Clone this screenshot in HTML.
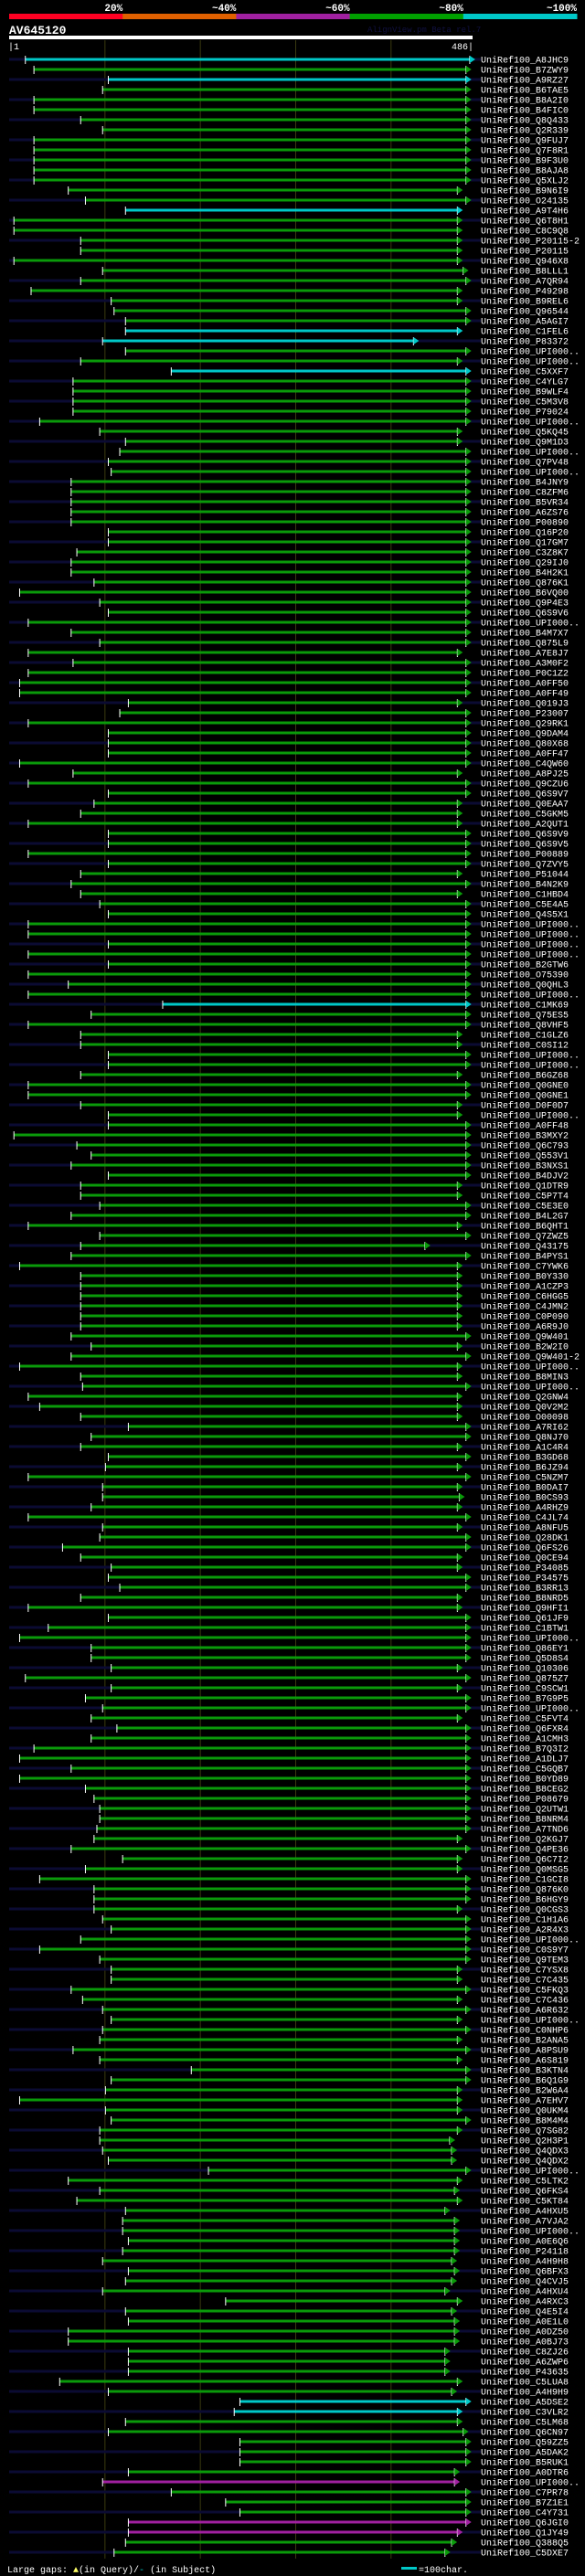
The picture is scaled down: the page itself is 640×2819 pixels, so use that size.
<!DOCTYPE html>
<html><head><meta charset="utf-8"><style>
html,body{margin:0;padding:0;background:#000;}
svg{display:block;}
text{font-family:"Liberation Mono",monospace;}
</style></head><body>
<svg id="chart" width="640" height="2819" viewBox="0 0 640 2819" xmlns="http://www.w3.org/2000/svg">
<rect x="0" y="0" width="640" height="2819" fill="#000"/>
<g id="scale-legend"></g>
<text x="10" y="37" fill="#fff" font-size="13" font-weight="bold">AV645120</text>
<text x="402" y="35" fill="#101040" font-size="9">AlignView.pm Beta rel.7</text>
<rect x="10" y="39" width="507" height="4" fill="#fff"/>
<text x="9" y="54" fill="#fff" font-size="10">|1</text>
<text x="518" y="54" fill="#fff" font-size="10" text-anchor="end">486|</text>
<g id="grid"></g>
<g id="rows"></g>
<text x="8" y="2815" fill="#fff" font-size="10">Large gaps: <tspan fill="#ffff66">▲</tspan>(in Query)/<tspan fill="#00c8c8">-</tspan> (in Subject)</text>
<rect x="439" y="2809" width="17" height="3" fill="#00c8c8"/>
<text x="458" y="2815" fill="#fff" font-size="10">=100char.</text>
</svg>
<script>
const scaleLabels = ["20%","~40%","~60%","~80%","~100%"];
const scaleColors = ["#ff0022","#e06000","#a020a0","#00a000","#00c8c8"];
const gridTicks = [100,200,300,400];
const names = ["A8JHC9","B7ZWY9","A9RZ27","B6TAE5","B8A2I0","B4FIC0","Q8Q433","Q2R339","Q9FUJ7","Q7F8R1",
"B9F3U0","B8AJA8","Q5XLJ2","B9N6I9","O24135","A9T4H6","Q6T8H1","C8C9Q8","P20115-2","P20115",
"Q946X8","B8LLL1","A7QR94","P49298","B9REL6","Q96544","A5AGI7","C1FEL6","P83372","UPI000..",
"UPI000..","C5XXF7","C4YLG7","B9WLF4","C5M3V8","P79024","UPI000..","Q5KQ45","Q9M1D3","UPI000..",
"Q7PV48","UPI000..","B4JNY9","C8ZFM6","B5VR34","A6ZS76","P00890","Q16P20","Q17GM7","C3Z8K7",
"Q29IJ0","B4H2K1","Q876K1","B6VQ00","Q9P4E3","Q6S9V6","UPI000..","B4M7X7","Q875L9","A7E8J7",
"A3M0F2","P0C1Z2","A0FF50","A0FF49","Q019J3","P23007","Q29RK1","Q9DAM4","Q80X68","A0FF47",
"C4QW60","A8PJ25","Q9CZU6","Q6S9V7","Q0EAA7","C5GKM5","A2QUT1","Q6S9V9","Q6S9V5","P00889",
"Q7ZVY5","P51044","B4N2K9","C1HBD4","C5E4A5","Q4S5X1","UPI000..","UPI000..","UPI000..","UPI000..",
"B2GTW6","O75390","Q0QHL3","UPI000..","C1MK69","Q75ES5","Q8VHF5","C1GLZ6","C0SI12","UPI000..",
"UPI000..","B6GZ68","Q0GNE0","Q0GNE1","D0F0D7","UPI000..","A0FF48","B3MXY2","Q6C793","Q553V1",
"B3NXS1","B4DJV2","Q1DTR9","C5P7T4","C5E3E0","B4L2G7","B6QHT1","Q7ZWZ5","Q43175","B4PYS1",
"C7YWK6","B0Y330","A1CZP3","C6HGG5","C4JMN2","C0P090","A6R9J0","Q9W401","B2W2I0","Q9W401-2",
"UPI000..","B8MIN3","UPI000..","Q2GNW4","Q0V2M2","O00098","A7RI62","Q8NJ70","A1C4R4","B3GD68",
"B6JZ94","C5NZM7","B0DAI7","B0CS93","A4RHZ9","C4JL74","A8NFU5","Q28DK1","Q6FS26","Q0CE94",
"P34085","P34575","B3RR13","B8NRD5","Q9HFI1","Q61JF9","C1BTW1","UPI000..","Q86EY1","Q5D8S4",
"Q10306","Q875Z7","C9SCW1","B7G9P5","UPI000..","C5FVT4","Q6FXR4","A1CMH3","B7Q3I2","A1DLJ7",
"C5GQB7","B0YD89","B8CEG2","P08679","Q2UTW1","B8NRM4","A7TND6","Q2KGJ7","Q4PE36","Q6C7I2",
"Q0MSG5","C1GCI8","Q876K0","B6HGY9","Q0CGS3","C1H1A6","A2R4X3","UPI000..","C0S9Y7","Q9TEM3",
"C7YSX8","C7C435","C5FKQ3","C7C436","A6R632","UPI000..","C0NHP6","B2ANA5","A8PSU9","A6S819",
"B3KTN4","B6Q1G9","B2W6A4","A7EHV7","Q0UKM4","B8M4M4","Q7SG82","Q2H3P1","Q4QDX3","Q4QDX2",
"UPI000..","C5LTK2","Q6FKS4","C5KT84","A4HXU5","A7VJA2","UPI000..","A0E6Q6","P24118","A4H9H8",
"Q6BFX3","Q4CVJ5","A4HXU4","A4RXC3","Q4E5I4","A0E1L0","A0DZ50","A0BJ73","C8ZJ26","A6ZWP6",
"P43635","C5LUA8","A4H9H9","A5DSE2","C3VLR2","C5LM68","Q6CN97","Q59ZZ5","A5DAK2","B5RUK1",
"A0DTR6","UPI000..","C7PR78","B7Z1E1","C4Y731","Q6JGI0","Q1JY49","Q388Q5","C5DXE7"];
const starts = [18,27,105,99,27,27,76,99,27,27,
27,27,27,63,81,123,6,6,76,76,
6,99,76,24,108,111,123,123,99,123,
76,171,68,68,68,68,33,96,123,117,
105,108,66,66,66,66,66,105,105,72,
66,66,90,12,96,105,21,66,96,21,
68,21,12,12,126,117,21,105,105,105,
12,68,21,105,90,76,21,105,105,21,
105,76,66,76,96,105,21,21,105,21,
105,21,63,21,162,87,21,76,76,105,
105,76,21,21,76,105,105,6,72,87,
66,105,76,76,96,66,21,96,76,66,
12,76,76,76,76,76,76,66,87,66,
12,76,78,21,33,76,126,87,76,105,
102,21,99,99,87,21,99,96,57,76,
108,105,117,76,21,105,42,12,87,87,
108,18,108,81,99,87,114,87,27,12,
66,12,81,90,96,96,93,90,66,120,
81,33,90,90,90,99,108,76,33,96,
108,108,66,78,99,108,99,96,68,96,
192,108,102,12,102,108,96,96,99,105,
210,63,96,72,123,120,120,126,120,99,
126,123,99,228,123,126,63,63,126,126,
126,54,105,243,237,123,105,243,243,243,
126,99,171,228,243,126,126,123,111];
const ends = [484,480,480,480,480,480,480,480,480,480,
480,480,480,471,480,471,471,471,471,471,
471,477,480,471,471,480,480,471,425,480,
471,480,480,480,480,480,480,471,471,480,
480,480,480,480,480,480,480,480,480,480,
480,480,480,480,480,480,480,480,480,471,
480,480,480,480,471,480,480,480,480,480,
480,471,480,480,471,471,471,480,480,480,
480,471,480,471,480,480,480,480,480,480,
480,480,480,480,480,480,480,471,471,480,
480,471,480,480,471,471,480,480,480,480,
480,480,471,471,480,480,471,480,437,480,
471,471,471,471,471,471,471,480,471,480,
471,471,480,471,471,471,480,480,471,480,
471,480,471,473,471,480,471,480,480,471,
471,480,480,471,471,480,480,480,480,480,
471,480,471,480,480,471,480,480,480,480,
480,480,480,480,480,480,480,471,480,471,
471,480,480,480,471,480,480,480,480,480,
471,471,480,471,480,471,480,471,480,471,
480,480,471,471,471,480,471,463,465,465,
480,471,468,471,458,468,468,468,468,465,
468,465,458,471,465,468,468,468,458,458,
458,471,465,480,471,471,477,480,480,480,
468,468,480,480,480,480,471,465,458];
const identityClass = {0:4,2:4,15:4,27:4,28:4,31:4,94:4,233:4,234:4,241:2,245:2,246:2};

const NS = "http://www.w3.org/2000/svg";
const X0 = 10, PX = 1.0433, Y0 = 65, ROWH = 11;
function xPos(p){ return X0 + (p - 1) * PX; }
function yRow(i){ return Y0 + i * ROWH; }
function mk(tag, attrs, parent){
  const el = document.createElementNS(NS, tag);
  for (const k in attrs) el.setAttribute(k, attrs[k]);
  parent.appendChild(el);
  return el;
}

// color scale
const sg = document.getElementById("scale-legend");
const segW = 124.2;
scaleLabels.forEach((lab, i) => {
  const r = mk("rect", {x: 10 + i*segW, y: 15, width: segW + 0.5, height: 6, fill: scaleColors[i]}, sg);
  
  
  const t = mk("text", {x: 10 + (i+1)*segW, y: 12, fill: "#fff", "font-size": 11, "font-weight": "bold", "text-anchor": "end"}, sg);
  t.textContent = lab;
  
  
});

// gridlines
const gg = document.getElementById("grid");
gridTicks.forEach(p => {
  const l = mk("line", {x1: xPos(p+1)+0.5, x2: xPos(p+1)+0.5, y1: 44, y2: 2800, stroke: "#3a3a10", "stroke-width": 1}, gg);
  
  
});

// rows
const rg = document.getElementById("rows");
const classColor = {2:"#a020a0", 3:"#0a9a0a", 4:"#00c8c8"};
names.forEach((nm, i) => {
  const y = yRow(i);
  const g = mk("g", {}, rg);
  
  
  if (i % 2 === 0) {
    const s = mk("rect", {x: 10, y: y - 1.5, width: 516, height: 3, fill: "#0b0b33"}, g);
    
    
  }
  const col = classColor[identityClass[i] || 3];
  const sx = xPos(starts[i]), ex = xPos(ends[i]);
  const b = mk("rect", {x: sx, y: y - 1.5, width: ex - sx, height: 3, fill: col}, g);
  
  
  const st = mk("rect", {x: sx - 0.5, y: y - 4, width: 1, height: 9, fill: "#fff"}, g);
  
  
  const et = mk("rect", {x: ex - 0.5, y: y - 4, width: 1, height: 9, fill: "#fff"}, g);
  
  
  const a = mk("polygon", {points: `${ex},${y-4} ${ex+6},${y} ${ex},${y+4}`, fill: col}, g);
  
  
  const t = mk("text", {x: 526, y: y + 3.5, fill: "#fff", "font-size": 10}, g);
  t.textContent = "UniRef100_" + nm;
  
  
});
</script>
</body></html>
